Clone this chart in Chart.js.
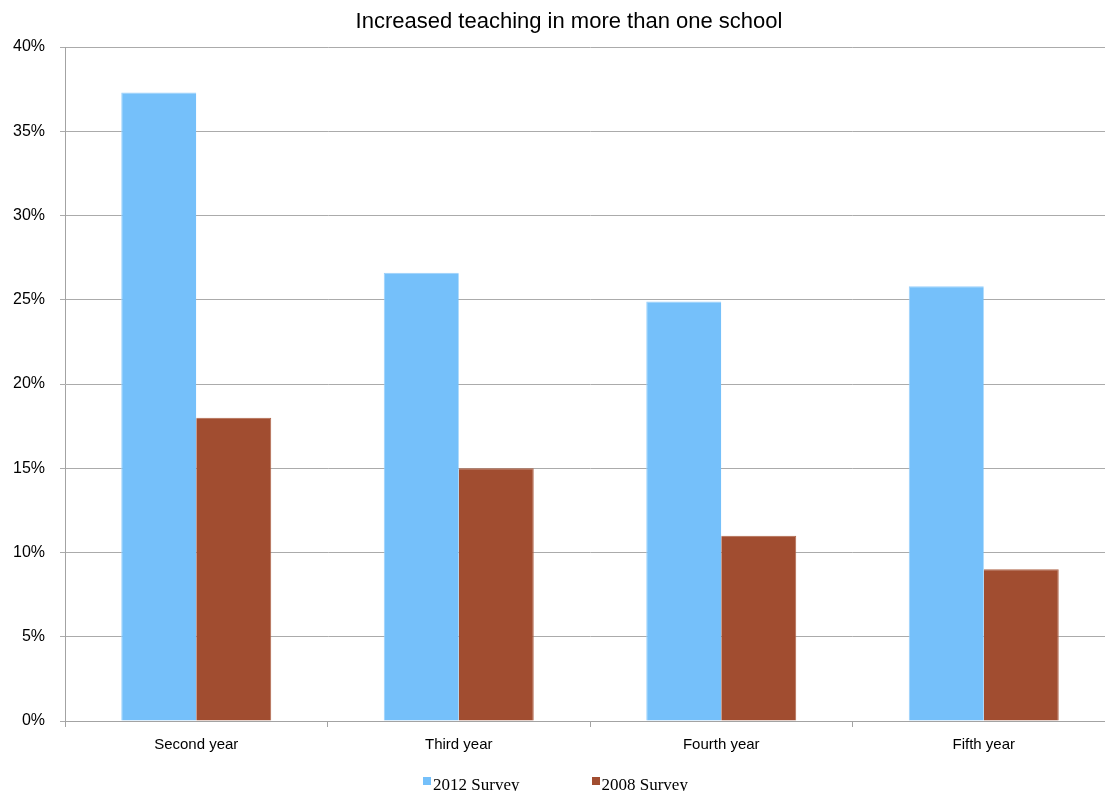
<!DOCTYPE html>
<html>
<head>
<meta charset="utf-8">
<title>Increased teaching in more than one school</title>
<script src="https://cdn.jsdelivr.net/npm/chart.js@4/dist/chart.umd.min.js"></script>
<style>
  html, body { margin: 0; padding: 0; background: #ffffff; overflow: hidden; }
  #wrap { width: 1138px; height: 791px; }
</style>
</head>
<body>
<div id="wrap"><canvas id="chart" width="1138" height="791"></canvas></div>
<script>
// Survey results: share of respondents reporting increased teaching in more than one school
const categories = ['Second year', 'Third year', 'Fourth year', 'Fifth year'];
const survey2012 = [37.3, 26.6, 24.9, 25.8];
const survey2008 = [18, 15, 11, 9];
const seriesNames = ['2012 Survey', '2008 Survey'];
const yTickStep = 5;
const yMax = 40;

const chartTitle = 'Increased teaching in more than one school';

// Legend drawn as a single row under the axis, serif type with small square keys
const bottomLegend = {
  id: 'bottomLegend',
  afterDraw(chart, args, opts) {
    const ctx = chart.ctx;
    ctx.save();
    ctx.font = opts.font;
    ctx.textBaseline = 'alphabetic';
    const items = chart.data.datasets.map(ds => ({
      label: ds.label,
      color: ds.backgroundColor,
      w: opts.box + opts.textGap + ctx.measureText(ds.label).width
    }));
    const total = items.reduce((s, it) => s + it.w, 0) + opts.itemGap * (items.length - 1);
    let x = chart.width / 2 + opts.shift - total / 2;
    items.forEach(it => {
      ctx.fillStyle = it.color;
      ctx.fillRect(Math.round(x), opts.baseline - 13, opts.box, opts.box);
      ctx.fillStyle = '#000000';
      ctx.fillText(it.label, x + opts.box + opts.textGap, opts.baseline);
      x += it.w + opts.itemGap;
    });
    ctx.restore();
  }
};

const gridGrey = '#ababab';
const axisGrey = '#a3a3a3';

new Chart(document.getElementById('chart'), {
  type: 'bar',
  data: {
    labels: categories,
    datasets: [
      {
        label: seriesNames[0],
        data: survey2012,
        backgroundColor: '#75c0fa',
        borderColor: '#9ad0fb',
        borderWidth: { left: 1, top: 1, right: 0, bottom: 0 },
        barPercentage: 1,
        categoryPercentage: 0.5714
      },
      {
        label: seriesNames[1],
        data: survey2008,
        backgroundColor: '#a14d30',
        borderColor: '#b0654a',
        borderWidth: { left: 0, top: 1, right: 1, bottom: 0 },
        barPercentage: 1,
        categoryPercentage: 0.5714
      }
    ]
  },
  options: {
    responsive: false,
    animation: false,
    devicePixelRatio: 1,
    layout: { padding: { left: 0, right: 0, top: 0, bottom: 17 } },
    plugins: {
      legend: { display: false },
      tooltip: { enabled: false },
      title: {
        display: true,
        text: chartTitle,
        color: '#000000',
        font: { family: '"Liberation Sans", Arial, Helvetica, sans-serif', size: 22, weight: 'normal' },
        padding: { top: 9, bottom: 11.6 }
      },
      bottomLegend: {
        font: '17px "Liberation Serif", "Times New Roman", serif',
        box: 8,
        textGap: 2,
        itemGap: 72,
        shift: -13.5,
        baseline: 790
      }
    },
    scales: {
      x: {
        offset: true,
        grid: {
          offset: true,
          drawOnChartArea: false,
          drawTicks: true,
          tickLength: 6,
          color: axisGrey,
          lineWidth: 1
        },
        border: { display: true, color: axisGrey, width: 1 },
        ticks: {
          color: '#000000',
          padding: 9,
          font: { family: '"Liberation Sans", Arial, Helvetica, sans-serif', size: 15 }
        },
        afterFit(scale) { scale.height = 53; }
      },
      y: {
        min: 0,
        max: yMax,
        grid: {
          color: gridGrey,
          lineWidth: 1,
          drawTicks: true,
          tickLength: 5
        },
        border: { display: true, color: axisGrey, width: 1 },
        ticks: {
          stepSize: yTickStep,
          color: '#000000',
          padding: 15,
          font: { family: '"Liberation Sans", Arial, Helvetica, sans-serif', size: 16 },
          callback: v => v + '%'
        },
        afterFit(scale) { scale.width = 65; }
      },
      // empty right-hand margin axis: keeps the plot edge clear of the canvas edge
      yMargin: {
        position: 'right',
        display: true,
        grid: { display: false },
        border: { display: false },
        ticks: { display: false },
        afterFit(scale) { scale.width = 23; }
      }
    }
  },
  plugins: [bottomLegend]
});
</script>
</body>
</html>
